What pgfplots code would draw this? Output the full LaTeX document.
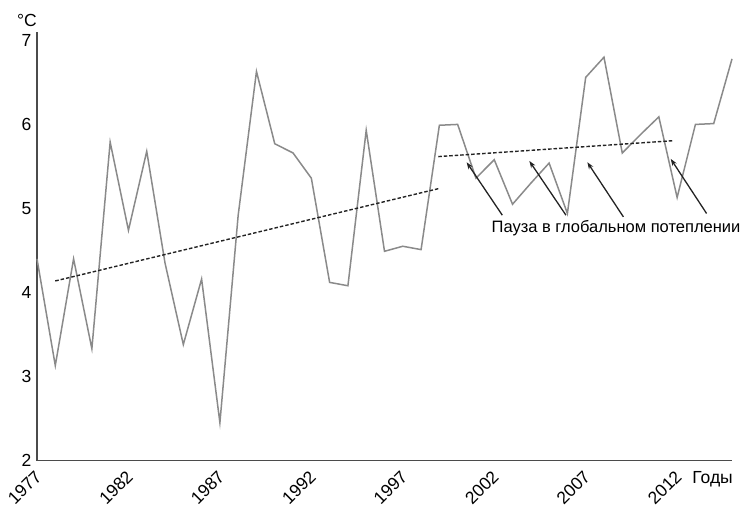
\documentclass[border=0pt]{standalone}
\usepackage{fontspec}
\setmainfont{Liberation Sans}
\usepackage{pgfplots}
\usepackage{pgfplotstable}
\pgfplotsset{compat=1.18}
\usetikzlibrary{arrows.meta}

% Annual mean temperature, degrees C
\pgfplotstableread{
year temp
1977 4.40
1978 3.13
1979 4.40
1980 3.33
1981 5.79
1982 4.74
1983 5.68
1984 4.35
1985 3.38
1986 4.16
1987 2.45
1988 4.92
1989 6.63
1990 5.77
1991 5.66
1992 5.36
1993 4.12
1994 4.08
1995 5.93
1996 4.49
1997 4.55
1998 4.51
1999 5.99
2000 6.00
2001 5.36
2002 5.58
2003 5.05
2004 5.30
2005 5.54
2006 4.94
2007 6.56
2008 6.80
2009 5.66
2010 5.88
2011 6.09
2012 5.13
2013 6.00
2014 6.01
2015 6.78
}\temps

\definecolor{seriesgray}{RGB}{138,138,138}
\definecolor{axisgray}{RGB}{75,75,75}
\definecolor{trendink}{RGB}{35,35,35}

\begin{document}
\begin{tikzpicture}[font=\fontsize{17.5bp}{21bp}\selectfont]
\useasboundingbox (-37bp,-48.5bp) rectangle (712bp,460.5bp);
\begin{axis}[
  scale only axis, width=695bp, height=428.5bp,
  xmin=1977, xmax=2015, ymin=2, ymax=7.1,
  axis lines=left,
  axis line style={-, draw=axisgray, line width=1.7bp},
  xtick={1977,1982,...,2012}, ytick={2,3,...,7},
  major tick length=0pt,
  /pgf/number format/1000 sep={},
  /pgf/number format/assume math mode=true,
  ticklabel style={font=\fontsize{17.5bp}{21bp}\selectfont},
  x tick label style={xshift=-3bp, yshift=-4bp, rotate=45, anchor=north east},
  y tick label style={xshift=-2bp},
  clip=false,
]
\addplot[color=seriesgray, line width=1.5bp, line join=miter] table[x=year,y=temp]{\temps};

% linear trends
\addplot[trendink, line width=1.4bp, dash pattern=on 3.5bp off 2bp] coordinates {(1978,4.137) (1999.03,5.24)};
\addplot[trendink, line width=1.4bp, dash pattern=on 3.5bp off 2bp] coordinates {(1998.94,5.617) (2011.83,5.807)};

% arrows to the plateau
\draw[trendink, line width=1.3bp, -{Stealth[length=7bp,width=5bp]}] (axis cs:2002.44,4.92) -- (axis cs:2000.49,5.55);
\draw[trendink, line width=1.3bp, -{Stealth[length=7bp,width=5bp]}] (axis cs:2005.92,4.92) -- (axis cs:2003.92,5.565);
\draw[trendink, line width=1.3bp, -{Stealth[length=7bp,width=5bp]}] (axis cs:2009.06,4.90) -- (axis cs:2007.09,5.55);
\draw[trendink, line width=1.3bp, -{Stealth[length=7bp,width=5bp]}] (axis cs:2013.61,4.94) -- (axis cs:2011.65,5.59);

\node[anchor=base, inner sep=0pt, font=\fontsize{16.5bp}{20bp}\selectfont] at (axis cs:2008.66,4.708) {Пауза в глобальном потеплении};

\node[anchor=base east, inner sep=0pt, yshift=6bp] at (rel axis cs:0,1) {°C};
\node[anchor=east, inner sep=0pt, yshift=-19bp, xshift=1bp] at (rel axis cs:1,0) {Годы};
\end{axis}
\end{tikzpicture}
\end{document}
